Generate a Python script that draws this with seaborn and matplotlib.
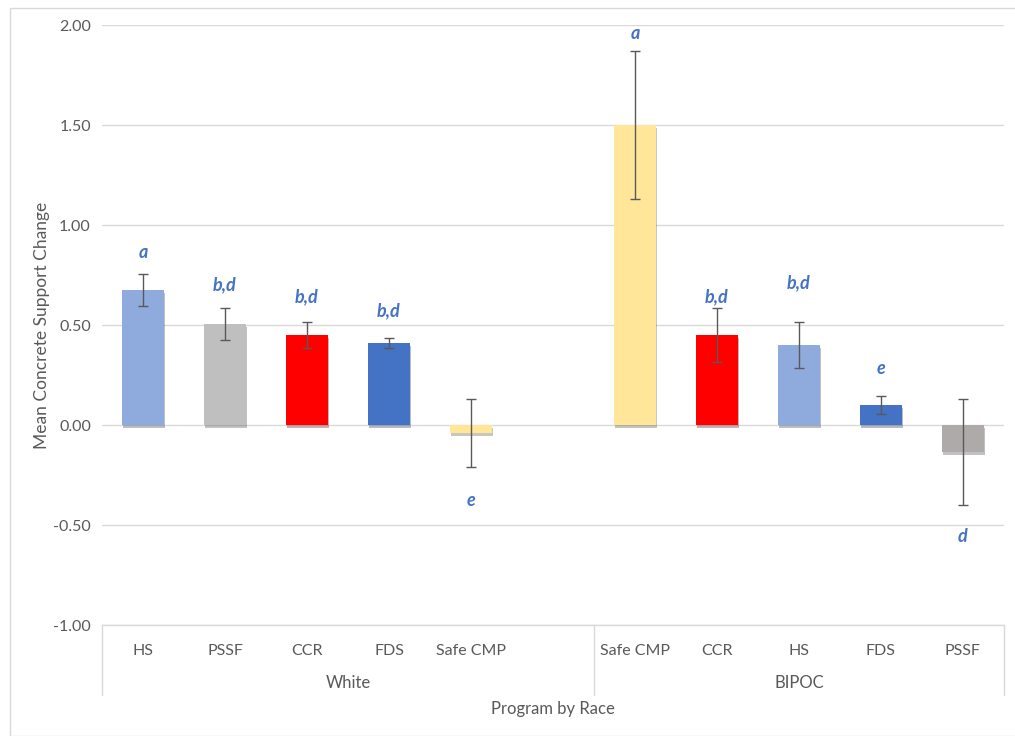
import matplotlib
matplotlib.use("Agg")
import matplotlib.pyplot as plt
import matplotlib.patheffects as pe
from matplotlib.patches import Rectangle
import seaborn as sns
import pandas as pd

# data
groups = ["White"] * 5 + ["BIPOC"] * 5
programs = ["HS", "PSSF", "CCR", "FDS", "Safe CMP",
            "Safe CMP", "CCR", "HS", "FDS", "PSSF"]
means = [0.675, 0.505, 0.45, 0.41, -0.04,
         1.50, 0.45, 0.40, 0.10, -0.135]
errors = [0.078, 0.078, 0.065, 0.025, 0.17,
          0.37, 0.135, 0.115, 0.045, 0.263]
letters = ["a", "b,d", "b,d", "b,d", "e",
           "a", "b,d", "b,d", "e", "d"]
letter_y = [0.865, 0.70, 0.64, 0.57, -0.375,
            1.96, 0.64, 0.71, 0.285, -0.555]
bar_colors = ["#8FAADC", "#BFBFBF", "#FF0000", "#4472C4", "#FFE699",
              "#FFE699", "#FF0000", "#8FAADC", "#4472C4", "#AEAAAA"]
y_ticks = [2.0, 1.5, 1.0, 0.5, 0.0, -0.5, -1.0]

df = pd.DataFrame({"group": groups, "program": programs, "mean": means})
df["key"] = df["group"] + "|" + df["program"]
# White group has one empty slot at its end
order = list(df["key"][:5]) + ["White|"] + list(df["key"][5:])
palette = dict(zip(df["key"], bar_colors))

sns.set_theme(style="white")
plt.rcParams["font.family"] = ["Lato", "DejaVu Sans"]

fig = plt.figure(figsize=(10.15, 7.36), dpi=100)
ax = fig.add_axes([0.1005, 0.1508, 0.8885, 0.8152])

sns.barplot(data=df, x="key", y="mean", hue="key", order=order,
            palette=palette, width=0.51, legend=False, ax=ax,
            linewidth=0, saturation=1)

for bar in ax.patches:
    bar.set_path_effects([pe.SimplePatchShadow(offset=(0.8, -1.8), alpha=0.3),
                          pe.Normal()])

pos = [order.index(k) for k in df["key"]]
ax.errorbar(pos, means, yerr=errors, fmt="none", ecolor="#595959",
            elinewidth=1, capsize=3.5, capthick=1, zorder=5)

for x, y, t in zip(pos, letter_y, letters):
    ax.text(x, y, t, ha="center", va="center", color="#4472C4",
            fontsize=13, fontweight="bold", fontstyle="italic")

ax.set_ylim(-1, 2)
ax.set_xlim(-0.5, len(order) - 0.5)
ax.set_yticks(y_ticks)
ax.set_yticklabels([f"{v:.2f}" for v in y_ticks])
ax.yaxis.grid(True, color="#D9D9D9", linewidth=1)
ax.set_axisbelow(True)
for s in ["top", "right", "left"]:
    ax.spines[s].set_visible(False)
ax.spines["bottom"].set_color("#D9D9D9")
ax.spines["bottom"].set_linewidth(1)

tick_names = [k.split("|")[1] for k in order]
ax.set_xticks(range(len(order)))
ax.set_xticklabels(tick_names)
ax.tick_params(axis="x", length=0, pad=14, labelsize=11.5, colors="#595959")
ax.tick_params(axis="y", length=0, pad=8, labelsize=11.5, colors="#595959")

ax.set_xlabel("")
ax.set_ylabel("Mean Concrete Support Change", fontsize=12.5, color="#595959",
              labelpad=2)

# group dividers and labels under the axis
trans = ax.get_xaxis_transform()
for xv in [-0.5, 5.5, len(order) - 0.5]:
    ax.plot([xv, xv], [0, -0.117], transform=trans, color="#D9D9D9",
            linewidth=1, clip_on=False)
ax.text(2.5, -0.097, "White", transform=trans, ha="center", va="center",
        fontsize=12, color="#595959")
ax.text(8.0, -0.097, "BIPOC", transform=trans, ha="center", va="center",
        fontsize=12, color="#595959")
ax.text(0.5, -0.14, "Program by Race", transform=ax.transAxes,
        ha="center", va="center", fontsize=12, color="#595959")

# outer chart border
fig.patches.append(Rectangle((10 / 1015, 0), 1.1, 1 - 8 / 736,
                             transform=fig.transFigure, fill=False,
                             edgecolor="#D9D9D9", linewidth=1))

fig.savefig("out.png", dpi=100)
